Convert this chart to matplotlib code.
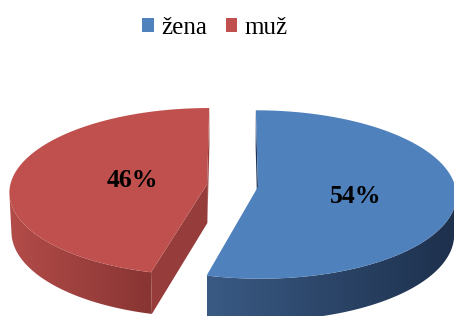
import numpy as np
import matplotlib
matplotlib.use("Agg")
import matplotlib.pyplot as plt
from matplotlib.patches import Polygon, Patch
from matplotlib.colors import LinearSegmentedColormap

# data
categories = ["žena", "muž"]
values = [54, 46]
labels = ["54%", "46%"]

# colours: top face, wall gradient (light -> dark), cut face
top_colors = ["#4f81bd", "#c0504d"]
wall_colors = [("#3a5a84", "#1d304c"), ("#b34c49", "#883533")]
cut_colors = ["#1f3350", "#963d3b"]
label_r = [0.5, 0.385]
label_shift = [-6, 0]  # degrees

W, H = 454, 316
fig = plt.figure(figsize=(W / 100, H / 100), dpi=100)
ax = fig.add_axes([0, 0, 1, 1])
ax.set_xlim(0, W)
ax.set_ylim(H, 0)
ax.axis("off")

# 3D pie settings: unit radius, camera looking down at the pie
elev = np.radians(25)
dist = 10.0          # camera distance in radii
height = 0.22        # pie thickness
explode = 0.13
scale = 1970.0       # px per unit at focal plane
ox, oy = 232.5, 185.5  # screen position of the pie centre

cam = np.array([0.0, dist * np.sin(elev), dist * np.cos(elev)])
fwd = -cam / dist
up = np.array([0.0, np.cos(elev), -np.sin(elev)])


def proj(X, Y, Z):
    d = np.stack([np.asarray(X, float) - cam[0],
                  np.asarray(Y, float) - cam[1],
                  np.asarray(Z, float) - cam[2]], axis=-1)
    zc = d @ fwd
    return ox + scale * d[..., 0] / zc, oy - scale * (d @ up) / zc


def faces_cam(P, n):
    return np.dot(cam - P, n) > 0


def grad_fill(poly, c0, c1, z):
    patch = Polygon(poly, closed=True, facecolor="none", edgecolor="none", zorder=z)
    ax.add_patch(patch)
    cmap = LinearSegmentedColormap.from_list("w", [c0, c1])
    x0, x1 = poly[:, 0].min(), poly[:, 0].max()
    y0, y1 = poly[:, 1].min(), poly[:, 1].max()
    im = ax.imshow(np.linspace(0, 1, 256).reshape(1, -1), cmap=cmap,
                   extent=[x0, x1, y1, y0], aspect="auto", zorder=z,
                   interpolation="bilinear")
    im.set_clip_path(patch)


fracs = np.array(values, dtype=float) / sum(values)
start = np.pi / 2
for i, f in enumerate(fracs):
    t1 = start
    t2 = start - 2 * np.pi * f  # clockwise from 12 o'clock
    start = t2
    mid = (t1 + t2) / 2
    cx, cz = explode * np.cos(mid), -explode * np.sin(mid)
    apex = np.array([cx, 0.0, cz])

    ts = np.linspace(t2, t1, 400)
    X = cx + np.cos(ts)
    Z = cz - np.sin(ts)

    # outer wall, only the part facing the camera
    vis = np.array([faces_cam(np.array([x, 0, z]), np.array([np.cos(t), 0, -np.sin(t)]))
                    for x, z, t in zip(X, Z, ts)])
    if vis.any():
        xt, yt = proj(X[vis], 0 * X[vis], Z[vis])
        xb, yb = proj(X[vis], -height + 0 * X[vis], Z[vis])
        wall = np.column_stack([np.r_[xt, xb[::-1]], np.r_[yt, yb[::-1]]])
        grad_fill(wall, wall_colors[i][0], wall_colors[i][1], 2)

    # radial cut faces
    for t, sgn in ((t1, 1), (t2, -1)):
        n = np.array([np.cos(t + sgn * np.pi / 2), 0, -np.sin(t + sgn * np.pi / 2)])
        if faces_cam(apex, n):
            ex, ez = cx + np.cos(t), cz - np.sin(t)
            px, py = proj([cx, ex, ex, cx], [0, 0, -height, -height], [cz, ez, ez, cz])
            ax.add_patch(Polygon(np.column_stack([px, py]), closed=True,
                                 facecolor=cut_colors[i], edgecolor="none", zorder=2))

    # top face
    tx, ty = proj(np.r_[cx, X], np.zeros(len(X) + 1), np.r_[cz, Z])
    ax.add_patch(Polygon(np.column_stack([tx, ty]), closed=True,
                         facecolor=top_colors[i], edgecolor="none", zorder=3))

    la = mid + np.radians(label_shift[i])
    lx, ly = proj(cx + label_r[i] * np.cos(la), 0.0, cz - label_r[i] * np.sin(la))
    ax.text(lx, ly, labels[i], ha="center", va="center", fontsize=18.5,
            fontweight="bold", family="Liberation Serif", zorder=5)

handles = [Patch(facecolor=c, edgecolor="none") for c in top_colors]
ax.legend(handles, categories, loc="center", bbox_to_anchor=(215 / W, 1 - 28 / H),
          ncol=2, frameon=False, prop={"family": "Liberation Serif", "size": 18},
          handlelength=0.45, handleheight=0.45, handletextpad=0.3,
          columnspacing=0.75, borderaxespad=0)

fig.savefig("out.png", dpi=100)
